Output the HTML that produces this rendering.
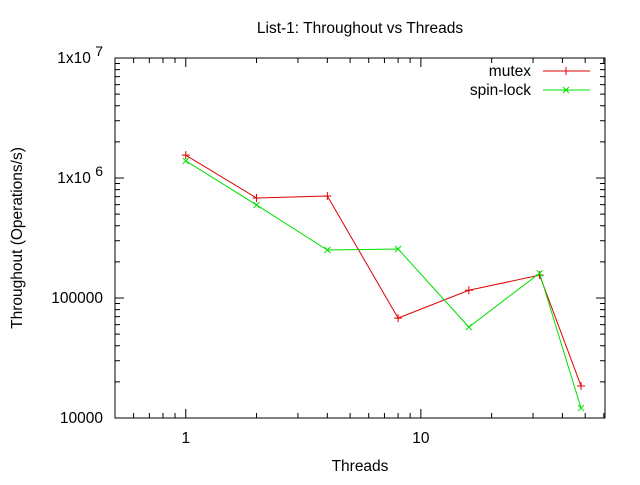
<!DOCTYPE html>
<html><head><meta charset="utf-8"><style>
body{margin:0;background:#fff}
svg{font-family:"Liberation Sans",sans-serif;font-size:15.5px}
</style></head><body>
<svg id="chart" width="640" height="480">
<text x="360" y="33" text-anchor="middle">List-1: Throughout vs Threads</text>
<text x="360" y="471" text-anchor="middle">Threads</text>
<text transform="translate(22,238) rotate(-90)" text-anchor="middle">Throughout (Operations/s)</text>
<rect x="115" y="58" width="490" height="360" fill="none" stroke="#000"/>
<g id="ticks"></g><g id="series"></g>
<g>
<text x="531" y="76" text-anchor="end">mutex</text>
<line x1="543" y1="71" x2="590" y2="71" stroke="#e00000"/>
<path d="M562,71h8M566,67v8" stroke="#e00000"/>
<text x="531" y="95" text-anchor="end">spin-lock</text>
<line x1="543" y1="90" x2="590" y2="90" stroke="#00e000"/>
<path d="M563,87l6,6M569,87l-6,6" stroke="#00e000"/>
</g>
</svg>
<script>
const threads=[1,2,4,8,16,32,48];
const mutexVals=[1550000,681000,708000,68000,116000,155000,18500];
const spinVals=[1390000,596000,251000,256000,57300,161000,12100];
const yTickVals=[10000,100000,1000000,10000000];
const xTickVals=[1,10];
const NS='http://www.w3.org/2000/svg';
const X0=115,X1=605,Y0=418,Y1=58,xmin=0.5,xmax=60.7,ymin=1e4,ymax=1e7;
function xs(v){return X0+(Math.log10(v)-Math.log10(xmin))/(Math.log10(xmax)-Math.log10(xmin))*(X1-X0);}
function ys(v){return Y0-(Math.log10(v)-Math.log10(ymin))/(Math.log10(ymax)-Math.log10(ymin))*(Y0-Y1);}
function mk(t,a,p){const e=document.createElementNS(NS,t);for(const k in a)e.setAttribute(k,a[k]);p.appendChild(e);return e;}
const tg=document.getElementById('ticks');
let d='';
for(let dec=1e4;dec<1e7;dec*=10){for(let m=2;m<10;m++){const y=ys(dec*m);d+=`M${X0},${y}h5M${X1},${y}h-5`;}}
yTickVals.forEach(v=>{const y=ys(v);d+=`M${X0},${y}h9M${X1},${y}h-9`;});
for(let dec=0.1;dec<100;dec*=10){for(let m=1;m<10;m++){const v=dec*m;if(v<xmin||v>xmax)continue;const x=xs(v);const l=(m===1)?9:5;d+=`M${x},${Y0}v-${l}M${x},${Y1}v${l}`;}}
const tp=mk('path',{d:d,stroke:'#000',fill:'none'},tg);


yTickVals.forEach(v=>{const y=ys(v);const e=Math.round(Math.log10(v));
 const t=mk('text',{x:103,y:y+5,'text-anchor':'end'},tg);
 if(e>=6){t.textContent='1x10 ';const s=mk('tspan',{dy:-7,'font-size':'14'},t);s.textContent=e;}else t.textContent=String(v);
 
 });
xTickVals.forEach(v=>{const t=mk('text',{x:xs(v),y:443,'text-anchor':'middle'},tg);t.textContent=v;
 
 });
const sg=document.getElementById('series');
function series(vals,col,name,cross){
 const pts=threads.map((t,i)=>[xs(t),ys(vals[i])]);
 const pl=mk('polyline',{points:pts.map(p=>p.join(',')).join(' '),fill:'none',stroke:col},sg);
 
 
 pts.forEach(p=>{const m=mk('path',{d:cross?`M${p[0]-3},${p[1]-3}l6,6M${p[0]+3},${p[1]-3}l-6,6`:`M${p[0]-4},${p[1]}h8M${p[0]},${p[1]-4}v8`,stroke:col},sg);
  
  });
}
series(mutexVals,'#e00000','mutex',false);
series(spinVals,'#00e000','spin-lock',true);
</script>
</body></html>
